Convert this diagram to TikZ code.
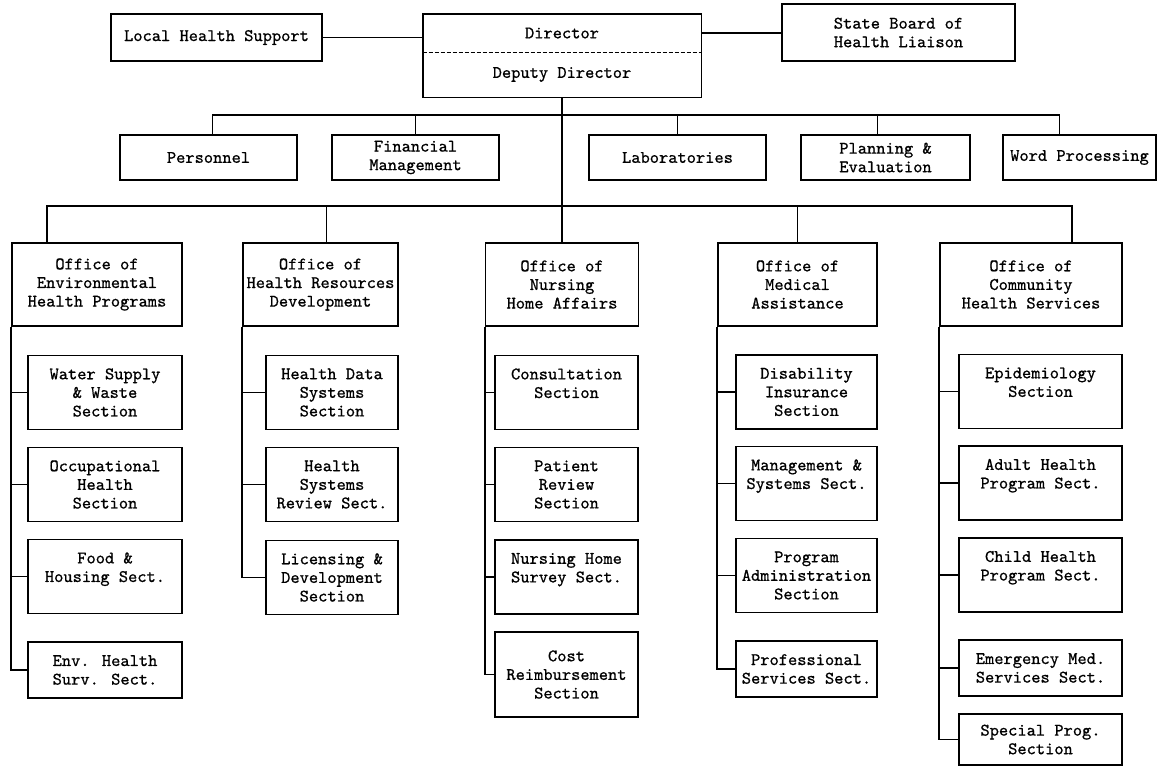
\documentclass[tikz,border=0pt]{standalone}
\usepackage{fontspec}
\newfontfamily\typefont{lmmono10-regular.otf}[FakeBold=0.8]
\begin{document}
\begin{tikzpicture}[x=0.5pt, y=-0.5pt, font=\typefont\fontsize{8.8}{9.3}\selectfont,
  box/.style={shape=rectangle, draw=black, line width=0.9pt, inner sep=0pt, align=center},
  office/.style={box, minimum height=41.5pt},
  staff/.style={box, minimum height=22.5pt},
  sect/.style={box, minimum height=37pt},
  wire/.style={line width=0.9pt, draw=black}]
\useasboundingbox (0,0) rectangle (1161,767);
% top level
\node[box, minimum width=105.5pt, minimum height=23.5pt] (lhs) at (216.5,37.5) {Local Health Support};
\node[shape=rectangle, inner sep=0pt, minimum width=139pt, minimum height=19pt] (dir) at (562,33) {Director};
\node[shape=rectangle, inner sep=0pt, minimum width=139pt, minimum height=22.5pt] (dep) at (562,74.5) {Deputy Director};
\draw[wire] (dir.north west) rectangle (dep.south east);
\draw[wire, dash pattern=on 2pt off 1pt] (dir.south west) -- (dir.south east);
\node[box, minimum width=116.5pt, minimum height=28.5pt] (sbh) at (898.5,32.5) {State Board of\\Health Liaison};
\path[wire] (lhs.east) edge (lhs.east -| dir.west);
\path[wire] (dir.east) edge (dir.east -| sbh.west);
% staff offices
\node[staff, minimum width=88.5pt] (pers) at (208.5,157.5) {Personnel};
\node[staff, minimum width=83.5pt] (fin) at (415.5,157.5) {Financial\\Management};
\node[staff, minimum width=88.5pt] (lab) at (677.5,157.5) {Laboratories};
\node[staff, minimum width=84.5pt] (plan) at (885.5,157.5) {Planning \&\\Evaluation};
\node[staff, minimum width=76.5pt] (wp) at (1079.5,157.5) {Word Processing};
\coordinate (sbus) at (562,115);
\coordinate (obus) at (562,206);
\draw[wire] ([xshift=2pt]pers.north) |- (sbus);
\draw[wire] (fin.north) |- (sbus);
\draw[wire] (lab.north) |- (sbus);
\draw[wire] ([xshift=-4pt]plan.north) |- (sbus);
\draw[wire] ([xshift=-10pt]wp.north) |- (sbus);
% line offices
\node[office, minimum width=85pt] (env) at (97,284.5) {Office of\\Environmental\\Health Programs};
\node[office, minimum width=77.5pt] (hrd) at (320.5,284.5) {Office of\\Health Resources\\Development};
\node[office, minimum width=76.5pt] (nha) at (562,284.5) {Office of\\Nursing\\Home Affairs};
\node[office, minimum width=79.5pt] (med) at (797.5,284.5) {Office of\\Medical\\Assistance};
\node[office, minimum width=91pt] (chs) at (1031,284.5) {Office of\\Community\\Health Services};
\draw[wire] (dep.south) -- (nha.north);
\draw[wire] ([xshift=-25pt]env.north) |- (obus);
\draw[wire] ([xshift=3pt]hrd.north) |- (obus);
\draw[wire] (med.north) |- (obus);
\draw[wire] ([xshift=20.5pt]chs.north) |- (obus);
% environmental health sections
\node[sect, minimum width=77pt] (water) at (105,392.5) {Water Supply\\\& Waste\\Section};
\node[sect, minimum width=77pt] (occ) at (105,484.5) {Occupational\\Health\\Section};
\node[sect, minimum width=77pt] (food) at (105,576.5) {Food \&\\Housing Sect.\\~};
\node[box, minimum width=77pt, minimum height=28pt] (envsurv) at (105,670) {Env. Health\\Surv. Sect.};
\draw[wire] (env.south west) |- (envsurv.west);
\path[wire] (env.south west |- water.west) edge (water.west);
\path[wire] (env.south west |- occ.west) edge (occ.west);
\path[wire] (env.south west |- food.west) edge (food.west);
% health resources sections
\node[sect, minimum width=66pt] (hds) at (332,392.5) {Health Data\\Systems\\Section};
\node[sect, minimum width=66pt] (hsr) at (332,484.5) {Health\\Systems\\Review Sect.};
\node[sect, minimum width=66pt] (lic) at (332,577.5) {Licensing \&\\Development\\Section};
\draw[wire] (hrd.south west) |- (lic.west);
\path[wire] (hrd.south west |- hds.west) edge (hds.west);
\path[wire] (hrd.south west |- hsr.west) edge (hsr.west);
% nursing home sections
\node[sect, minimum width=71.5pt] (cons) at (566.5,392.5) {Consultation\\Section\\~};
\node[sect, minimum width=71.5pt] (prs) at (566.5,484.5) {Patient\\Review\\Section};
\node[sect, minimum width=71.5pt] (nhs) at (566.5,577) {Nursing Home\\Survey Sect.\\~};
\node[box, minimum width=71.5pt, minimum height=42.5pt] (cost) at (566.5,674.5) {Cost\\Reimbursement\\Section};
\draw[wire] (nha.south west) |- (cost.west);
\path[wire] (nha.south west |- cons.west) edge (cons.west);
\path[wire] (nha.south west |- prs.west) edge (prs.west);
\path[wire] (nha.south west |- nhs.west) edge (nhs.west);
% medical assistance sections
\node[sect, minimum width=70.5pt] (dis) at (806.5,392) {Disability\\Insurance\\Section};
\node[sect, minimum width=70.5pt] (mss) at (806.5,483.5) {Management \&\\Systems Sect.\\~};
\node[sect, minimum width=70.5pt] (pad) at (806.5,575.5) {Program\\Administration\\Section};
\node[box, minimum width=70.5pt, minimum height=28pt] (pss) at (806.5,669) {Professional\\Services Sect.};
\draw[wire] (med.south west) |- (pss.west);
\path[wire] (med.south west |- dis.west) edge (dis.west);
\path[wire] (med.south west |- mss.west) edge (mss.west);
\path[wire] (med.south west |- pad.west) edge (pad.west);
% community health sections
\node[sect, minimum width=81.5pt] (epi) at (1040.5,391.5) {Epidemiology\\Section\\~};
\node[sect, minimum width=81.5pt] (ahp) at (1040.5,483) {Adult Health\\Program Sect.\\~};
\node[sect, minimum width=81.5pt] (chp) at (1040.5,575) {Child Health\\Program Sect.\\~};
\node[box, minimum width=81.5pt, minimum height=28pt] (ems) at (1040.5,668) {Emergency Med.\\Services Sect.};
\node[box, minimum width=81.5pt, minimum height=25.5pt] (spp) at (1040.5,739.5) {Special Prog.\\Section};
\draw[wire] (chs.south west) |- (spp.west);
\path[wire] (chs.south west |- epi.west) edge (epi.west);
\path[wire] (chs.south west |- ahp.west) edge (ahp.west);
\path[wire] (chs.south west |- chp.west) edge (chp.west);
\path[wire] (chs.south west |- ems.west) edge (ems.west);
\end{tikzpicture}
\end{document}
